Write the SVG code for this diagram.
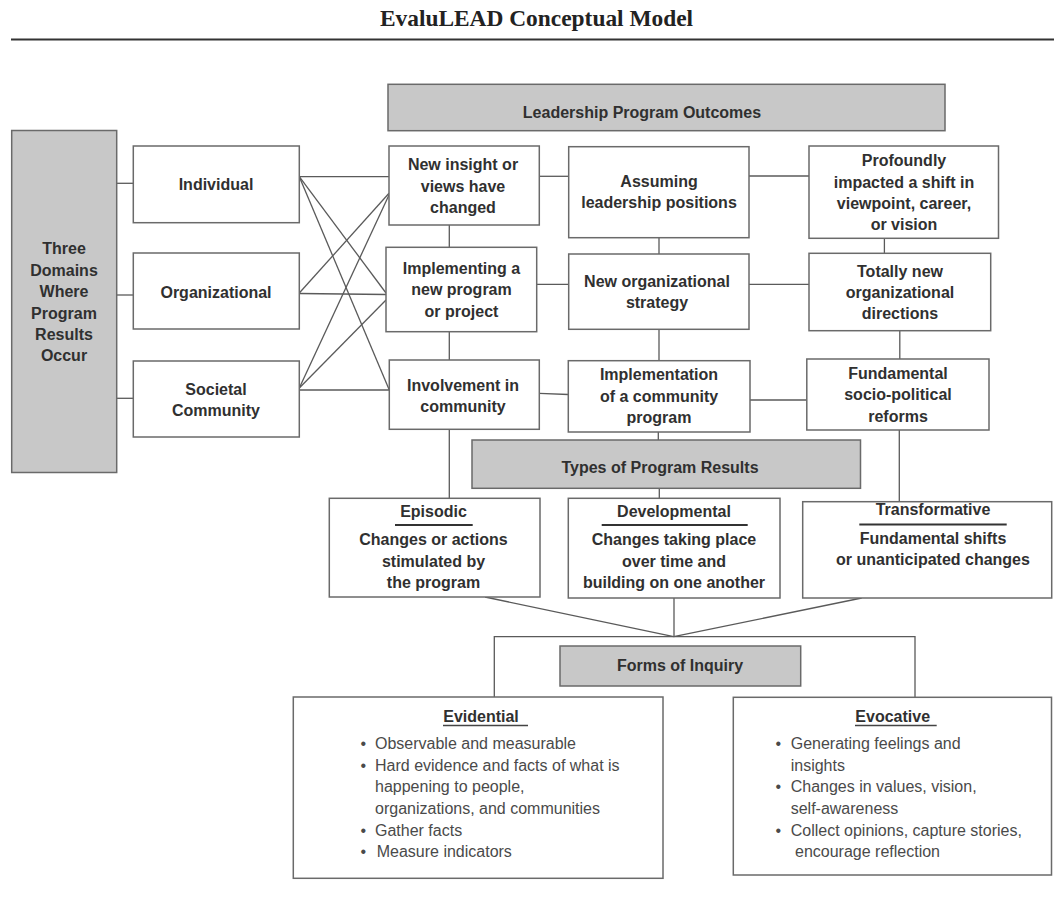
<svg xmlns="http://www.w3.org/2000/svg" width="1054" height="912" viewBox="0 0 1054 912">
<style>
.box{fill:#fff;stroke:#6a6a6a;stroke-width:1.5}
.gbox{fill:#c8c8c8;stroke:#6a6a6a;stroke-width:1.5}
.lbl{font-family:"Liberation Sans",Arial,sans-serif;font-size:16px;font-weight:bold;fill:#303030;text-anchor:middle}
.body{font-family:"Liberation Sans",Arial,sans-serif;font-size:16px;fill:#4a4a4a}
.bul{font-family:"Liberation Sans",Arial,sans-serif;font-size:16px;fill:#4a4a4a;text-anchor:middle}
.conn line,.conn path{stroke:#5a5a5a;stroke-width:1.3;fill:none}
.ul{stroke:#333;stroke-width:2}
.ul2{stroke:#444;stroke-width:1.5}
</style>
<rect width="1054" height="912" fill="#fff"/>
<text x="536.5" y="26" font-family="'Liberation Serif','Times New Roman',serif" font-size="23.4" font-weight="bold" fill="#222" text-anchor="middle">EvaluLEAD Conceptual Model</text>
<line x1="11" y1="39.5" x2="1054" y2="39.5" stroke="#333" stroke-width="2"/>

<g class="conn" id="connectors">
<line x1="116.7" y1="183.3" x2="133.3" y2="183.3"/>
<line x1="116.7" y1="295" x2="133.3" y2="295"/>
<line x1="116.7" y1="398.3" x2="133.3" y2="398.3"/>
<line x1="299.3" y1="176.7" x2="389" y2="176.7"/>
<line x1="299.3" y1="176.7" x2="386" y2="293"/>
<line x1="299.3" y1="176.7" x2="389.3" y2="390"/>
<line x1="299.3" y1="293" x2="389" y2="193.3"/>
<line x1="299.3" y1="293.5" x2="386" y2="294.5"/>
<line x1="299.3" y1="388" x2="389" y2="195"/>
<line x1="299.3" y1="388" x2="386" y2="300"/>
<line x1="299.3" y1="390" x2="389.3" y2="390"/>
<line x1="449.3" y1="225" x2="449.3" y2="247.3"/>
<line x1="449.3" y1="331.7" x2="449.3" y2="360"/>
<line x1="449.3" y1="429.3" x2="449.3" y2="498.3"/>
<line x1="539.3" y1="176.3" x2="568.7" y2="176.3"/>
<line x1="536.7" y1="284.3" x2="568.7" y2="284.3"/>
<line x1="539.3" y1="393.3" x2="568.3" y2="394.5"/>
<line x1="659" y1="237.7" x2="659" y2="254"/>
<line x1="659" y1="329.3" x2="659" y2="360.7"/>
<line x1="658.3" y1="432" x2="658.3" y2="440"/>
<line x1="749" y1="176" x2="809" y2="176"/>
<line x1="749" y1="284.3" x2="809" y2="284.3"/>
<line x1="750" y1="400" x2="806.8" y2="400"/>
<line x1="884.4" y1="238.3" x2="884.4" y2="253.3"/>
<line x1="899.8" y1="330.7" x2="899.8" y2="359"/>
<line x1="899.3" y1="430" x2="899.3" y2="501.7"/>
<line x1="659.3" y1="488.3" x2="659.3" y2="498.3"/>
<line x1="485" y1="597" x2="673.7" y2="636.7"/>
<line x1="674" y1="598" x2="674" y2="636.7"/>
<line x1="861.7" y1="598" x2="673.7" y2="636.7"/>
<path d="M494.3,697 V636.7 H915 V697.3"/>
</g>

<g id="domains"><rect class="gbox" x="11.7" y="130.5" width="105" height="342"/>
<text class="lbl" x="64" y="254">Three</text><text class="lbl" x="64" y="275.5">Domains</text><text class="lbl" x="64" y="297">Where</text><text class="lbl" x="64" y="318.5">Program</text><text class="lbl" x="64" y="340">Results</text><text class="lbl" x="64" y="361">Occur</text></g>

<g id="individual"><rect class="box" x="133.3" y="146" width="166" height="76.7"/><text class="lbl" x="216" y="190">Individual</text></g>
<g id="organizational"><rect class="box" x="133.3" y="253" width="166" height="76"/><text class="lbl" x="216" y="298">Organizational</text></g>
<g id="societal"><rect class="box" x="133.3" y="361" width="166" height="76"/><text class="lbl" x="216" y="394.5">Societal</text><text class="lbl" x="216" y="416">Community</text></g>

<g id="outcomes"><rect class="gbox" x="388" y="84.3" width="557" height="46.4"/><text class="lbl" x="642" y="118">Leadership Program Outcomes</text></g>

<g id="insight"><rect class="box" x="389" y="146" width="150.3" height="79"/><text class="lbl" x="463" y="169.5">New insight or</text><text class="lbl" x="463" y="191.5">views have</text><text class="lbl" x="463" y="212.5">changed</text></g>
<g id="implementing"><rect class="box" x="386" y="247.3" width="150.7" height="84.4"/><text class="lbl" x="461.5" y="273.5">Implementing a</text><text class="lbl" x="461.5" y="295">new program</text><text class="lbl" x="461.5" y="316.5">or project</text></g>
<g id="involvement"><rect class="box" x="389.3" y="360" width="150" height="69.3"/><text class="lbl" x="463" y="390.5">Involvement in</text><text class="lbl" x="463" y="411.5">community</text></g>

<g id="assuming"><rect class="box" x="568.7" y="146.7" width="180.3" height="91"/><text class="lbl" x="659" y="187">Assuming</text><text class="lbl" x="659" y="208">leadership positions</text></g>
<g id="strategy"><rect class="box" x="568.7" y="254" width="180.3" height="75.3"/><text class="lbl" x="657" y="286.5">New organizational</text><text class="lbl" x="657" y="307.5">strategy</text></g>
<g id="implementation"><rect class="box" x="568.3" y="360.7" width="181.7" height="71.3"/><text class="lbl" x="659" y="380">Implementation</text><text class="lbl" x="659" y="401.5">of a community</text><text class="lbl" x="659" y="422.5">program</text></g>

<g id="profoundly"><rect class="box" x="809" y="146" width="189.5" height="92.3"/><text class="lbl" x="904" y="166">Profoundly</text><text class="lbl" x="904" y="187.5">impacted a shift in</text><text class="lbl" x="904" y="208.5">viewpoint, career,</text><text class="lbl" x="904" y="230">or vision</text></g>
<g id="directions"><rect class="box" x="809" y="253.3" width="181.7" height="77.4"/><text class="lbl" x="900" y="277">Totally new</text><text class="lbl" x="900" y="298">organizational</text><text class="lbl" x="900" y="319">directions</text></g>
<g id="reforms"><rect class="box" x="806.8" y="359" width="182.2" height="71"/><text class="lbl" x="898" y="378.5">Fundamental</text><text class="lbl" x="898" y="400">socio-political</text><text class="lbl" x="898" y="421.5">reforms</text></g>

<g id="types"><rect class="gbox" x="472" y="440" width="388.5" height="48.3"/><text class="lbl" x="660" y="473">Types of Program Results</text></g>

<g id="episodic"><rect class="box" x="329.3" y="498.3" width="210.7" height="98.7"/><text class="lbl" x="433.5" y="516.5">Episodic</text><line class="ul" x1="395" y1="525" x2="472.7" y2="525"/><text class="lbl" x="433.5" y="545">Changes or actions</text><text class="lbl" x="433.5" y="566.5">stimulated by</text><text class="lbl" x="433.5" y="588">the program</text></g>
<g id="developmental"><rect class="box" x="568.3" y="498.3" width="211.7" height="99.7"/><text class="lbl" x="674" y="516.5">Developmental</text><line class="ul" x1="601.7" y1="525" x2="747.7" y2="525"/><text class="lbl" x="674" y="545">Changes taking place</text><text class="lbl" x="674" y="566.5">over time and</text><text class="lbl" x="674" y="588">building on one another</text></g>
<g id="transformative"><rect class="box" x="802.7" y="501.7" width="249" height="96.3"/><text class="lbl" x="933" y="515">Transformative</text><line class="ul" x1="859.3" y1="524.5" x2="1006.7" y2="524.5"/><text class="lbl" x="933" y="544">Fundamental shifts</text><text class="lbl" x="933" y="565">or unanticipated changes</text></g>

<g id="forms"><rect class="gbox" x="560" y="646" width="240.7" height="40"/><text class="lbl" x="680" y="671">Forms of Inquiry</text></g>

<g id="evidential"><rect class="box" x="293.3" y="697" width="369.7" height="181.3"/>
<text class="lbl" x="481" y="721.5">Evidential</text><line class="ul2" x1="443" y1="725.5" x2="528" y2="725.5"/>
<text class="bul" x="363.3" y="749.3">•</text><text class="body" x="375" y="749.3">Observable and measurable</text>
<text class="bul" x="363.3" y="771">•</text><text class="body" x="375" y="771">Hard evidence and facts of what is</text>
<text class="body" x="375" y="792.3">happening to people,</text>
<text class="body" x="375" y="814">organizations, and communities</text>
<text class="bul" x="363.3" y="835.5">•</text><text class="body" x="375" y="835.5">Gather facts</text>
<text class="bul" x="363.3" y="857">•</text><text class="body" x="376.7" y="857">Measure indicators</text></g>

<g id="evocative"><rect class="box" x="733.3" y="697.3" width="318.2" height="177.7"/>
<text class="lbl" x="892.7" y="721.5">Evocative</text><line class="ul2" x1="855" y1="725.5" x2="936.7" y2="725.5"/>
<text class="bul" x="778.3" y="749.3">•</text><text class="body" x="790.7" y="749.3">Generating feelings and</text>
<text class="body" x="790.7" y="771">insights</text>
<text class="bul" x="778.3" y="792.3">•</text><text class="body" x="790.7" y="792.3">Changes in values, vision,</text>
<text class="body" x="790.7" y="814">self-awareness</text>
<text class="bul" x="778.3" y="835.5">•</text><text class="body" x="790.7" y="835.5">Collect opinions, capture stories,</text>
<text class="body" x="795" y="857">encourage reflection</text></g>
</svg>
